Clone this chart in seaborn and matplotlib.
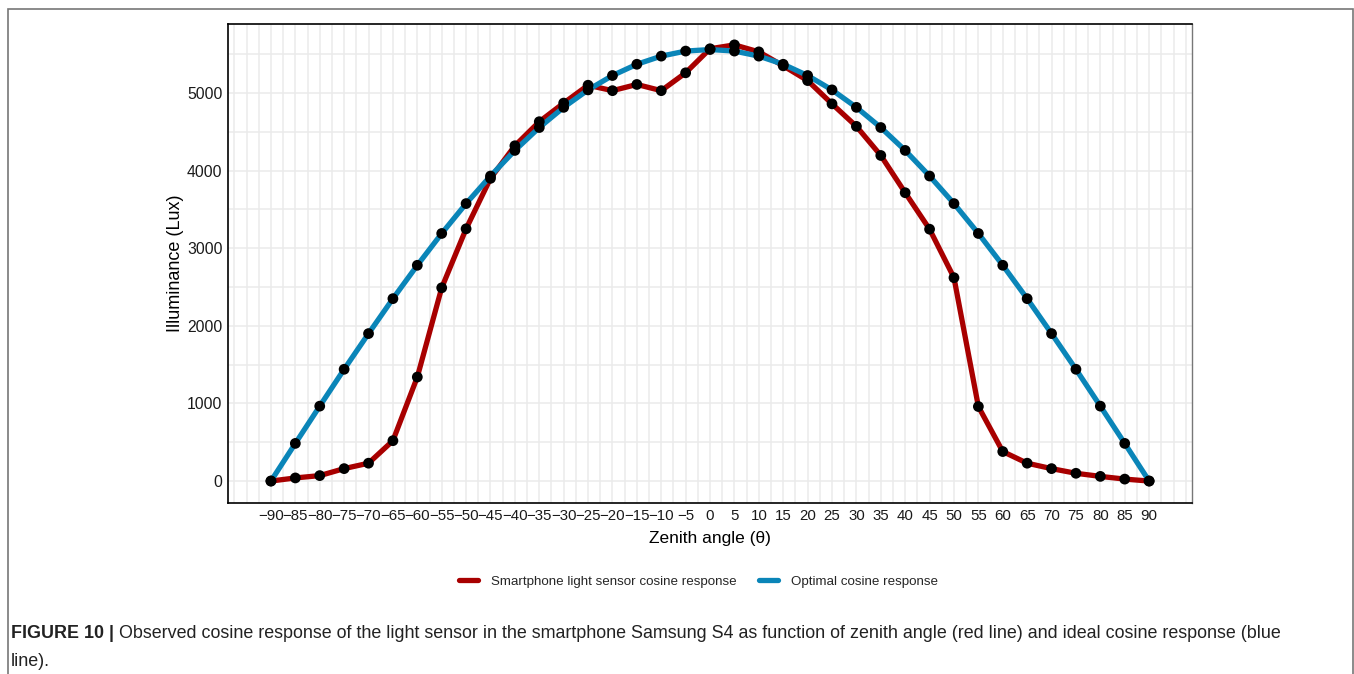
import numpy as np
import pandas as pd
import seaborn as sns
import matplotlib.pyplot as plt
from matplotlib.lines import Line2D
from matplotlib.patches import Rectangle

# zenith angles and the two responses (Lux)
angles = [-90, -85, -80, -75, -70, -65, -60, -55, -50, -45, -40, -35, -30, -25, -20, -15, -10, -5, 0,
          5, 10, 15, 20, 25, 30, 35, 40, 45, 50, 55, 60, 65, 70, 75, 80, 85, 90]
sensor = [0, 40, 70, 160, 230, 520, 1340, 2490, 3250, 3900, 4320, 4630, 4870, 5100, 5030, 5110, 5030, 5260, 5570,
          5620, 5530, 5350, 5160, 4860, 4570, 4195, 3715, 3245, 2620, 960, 380, 230, 160, 100, 60, 25, 0]
optimal = [0, 485, 965, 1440, 1900, 2350, 2780, 3190, 3575, 3930, 4260, 4555, 4815, 5040, 5225, 5370, 5475, 5540, 5560,
           5540, 5475, 5370, 5225, 5040, 4815, 4555, 4260, 3930, 3575, 3190, 2780, 2350, 1900, 1440, 965, 485, 0]
series_names = ['Smartphone light sensor cosine response', 'Optimal cosine response']
series_colors = ['#A80000', '#0A85B8']
y_ticks = [0, 1000, 2000, 3000, 4000, 5000]

df = pd.DataFrame({
    'angle': angles * 2,
    'lux': sensor + optimal,
    'series': [series_names[0]] * len(angles) + [series_names[1]] * len(angles),
})

sns.set_theme(style='white')
plt.rcParams['font.family'] = ['Liberation Sans', 'DejaVu Sans']

fig = plt.figure(figsize=(13.54, 6.74), dpi=100)
ax = fig.add_axes([0.1684, 0.2537, 0.712, 0.7107])

# grey frame round the whole figure
fig.patches.append(Rectangle((8 / 1354, -0.1), 1344.5 / 1354, 1 - 9 / 674 + 0.1, transform=fig.transFigure,
                             fill=False, edgecolor='#777777', linewidth=1.2))

sns.lineplot(data=df, x='angle', y='lux', hue='series', palette=dict(zip(series_names, series_colors)),
             linewidth=3.8, ax=ax, legend=False, zorder=3)
sns.scatterplot(data=df, x='angle', y='lux', color='black', s=60, edgecolor='none', ax=ax, legend=False, zorder=4)

ax.set_xlim(-98.8, 98.8)
ax.set_ylim(-283, 5889)

ax.set_xticks(angles)
ax.set_xticklabels([str(a).replace('-', '\u2212') for a in angles], fontsize=10.8, color='#1a1a1a')
ax.set_xticks(np.arange(-97.5, 98, 2.5), minor=True)
ax.set_yticks(y_ticks)
ax.set_yticklabels([str(v) for v in y_ticks], fontsize=11.3, color='#1a1a1a')
ax.set_yticks(np.arange(-0, 5889, 500), minor=True)
ax.tick_params(axis='both', which='both', length=0, pad=4)

ax.grid(True, which='both', color='#EBEBEB', linewidth=1.1, zorder=0)
ax.set_axisbelow(True)

for side in ['left', 'bottom', 'top']:
    ax.spines[side].set_color('black')
    ax.spines[side].set_linewidth(1.2)
ax.spines['right'].set_color('#777777')
ax.spines['right'].set_linewidth(1.0)

ax.set_xlabel('Zenith angle (θ)', fontsize=12.5, labelpad=6, color='black')
ax.set_ylabel('Illuminance (Lux)', fontsize=13, labelpad=2, color='black')

handles = [Line2D([0], [0], color=c, linewidth=3.8) for c in series_colors]
fig.legend(handles, series_names, loc='center', bbox_to_anchor=(0.516, 0.1365), ncol=2, frameon=False,
           fontsize=9.6, handlelength=1.4, columnspacing=1.7, handletextpad=1.0)

# caption
fig.canvas.draw()
renderer = fig.canvas.get_renderer()
t_bold = fig.text(11 / 1354, 1 - 634 / 674, 'FIGURE 10 | ', fontsize=12.9, fontweight='bold', va='center',
                  color='#222222')
bb = t_bold.get_window_extent(renderer=renderer)
fig.text(bb.x1 / fig.bbox.width, 1 - 634 / 674,
         'Observed cosine response of the light sensor in the smartphone Samsung S4 as function of zenith angle '
         '(red line) and ideal cosine response (blue', fontsize=12.9, va='center', color='#222222')
fig.text(11 / 1354, 1 - 661 / 674, 'line).', fontsize=12.9, va='center', color='#222222')

fig.savefig('out.png', dpi=100)
